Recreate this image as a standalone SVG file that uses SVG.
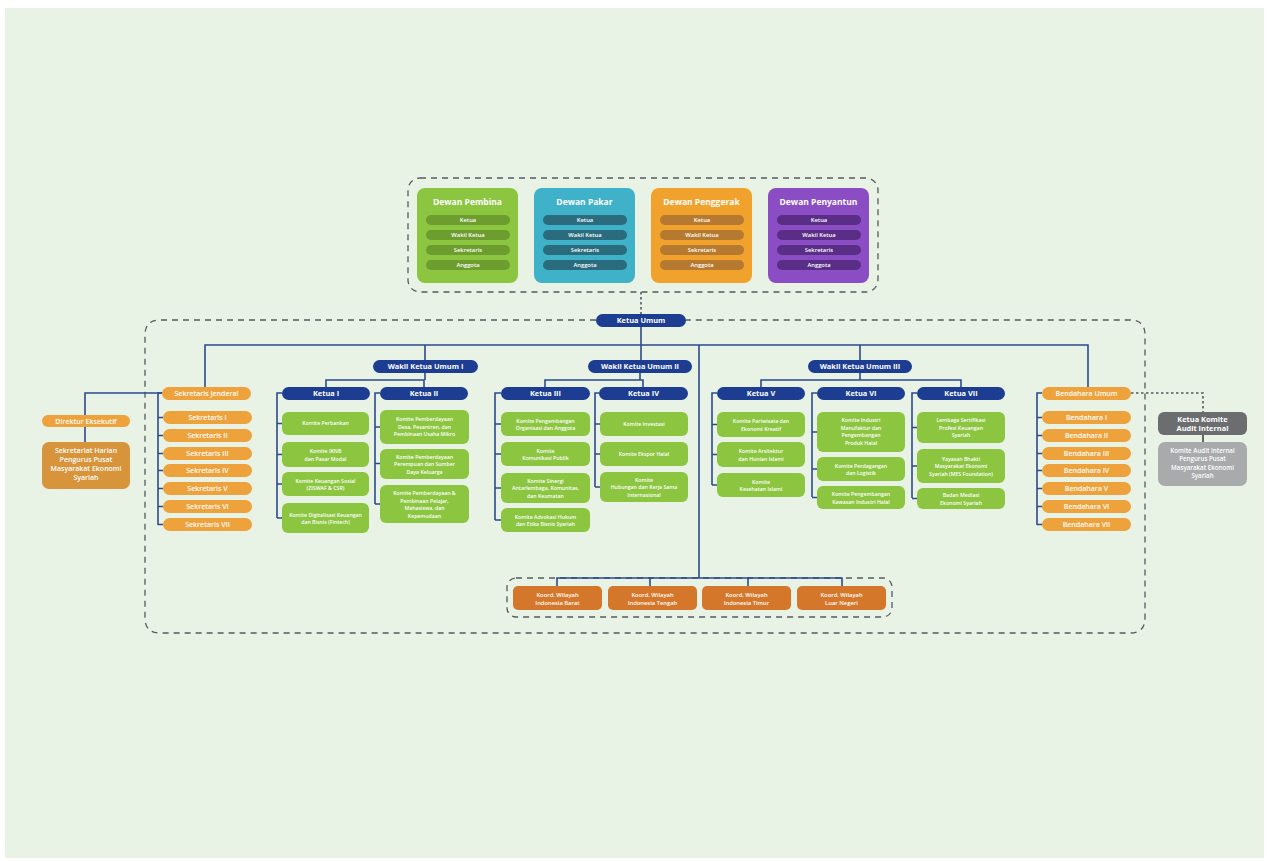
<svg xmlns="http://www.w3.org/2000/svg" width="1269" height="861" viewBox="0 0 1269 861">
<style>
text{font-family:"Open Sans","Liberation Sans",sans-serif;fill:#fff;text-anchor:middle;font-weight:700}
.t{font-size:8.5px}
.p{font-size:5.8px;font-weight:600}
.n{font-size:7.4px}
.o{font-size:7px;font-weight:600}
.c{font-size:5.2px;font-weight:600}
.navy{fill:#1c3d92}
.org{fill:#eea23c}
.grn{fill:#8cc540}
.krd{fill:#d5772b}
.ln{stroke:#2d4a8e;stroke-width:1.6;fill:none}
.dash{stroke:#555a5e;stroke-width:1.3;fill:none;stroke-dasharray:6 5}
.dot{stroke:#555a5e;stroke-width:1.6;fill:none;stroke-dasharray:2.5 2.5}
</style>
<rect width="1269" height="861" fill="#ffffff"/>
<rect x="5" y="8" width="1259" height="850" fill="#e8f3e5"/>

<g id="connectors">
<rect class="dash" x="408" y="178" width="470" height="114" rx="12"/>
<path class="dash" d="M596 320 H160 Q145 320 145 335 V618 Q145 633 160 633 H1130 Q1145 633 1145 618 V335 Q1145 320 1130 320 H686"/>
<rect class="dash" x="507" y="578" width="385" height="39" rx="9"/>
<path class="dot" d="M641 292 V314"/>
<path class="dot" d="M1131 393 H1203 V412"/>
<path class="ln" d="M641 327 V360 M205 387 V345 H1088 V387 M425 345 V360 M699 345 V578 M860 345 V360"/>
<path class="ln" d="M425 373 V380 M326 387 V380 H424 V387 M640 373 V380 M545 387 V380 H643 V387 M860 373 V380 M761 387 V380 H961 V387"/>
<path class="ln" d="M162 393 H85 V415 M85 427 V442"/>
<path class="ln" d="M163 393 H158 V525 M158 417.5 H163 M158 435.5 H163 M158 453.5 H163 M158 470.5 H163 M158 488.5 H163 M158 506.5 H163 M158 524.5 H163"/>
<path class="ln" d="M1042 393 H1037 V525 M1037 417.5 H1042 M1037 435.5 H1042 M1037 453.5 H1042 M1037 470.5 H1042 M1037 488.5 H1042 M1037 506.5 H1042 M1037 524.5 H1042"/>
<path class="ln" d="M282 393 H277 V518 M277 423.5 H282 M277 454.5 H282 M277 484 H282 M277 518 H282"/>
<path class="ln" d="M380 393 H375 V504 M375 427 H380 M375 463.5 H380 M375 504 H380"/>
<path class="ln" d="M501 393 H495 V520 M495 424 H501 M495 454 H501 M495 488 H501 M495 520 H501"/>
<path class="ln" d="M599 393 H595 V487 M595 424 H600 M595 454 H600 M595 487 H600"/>
<path class="ln" d="M717 393 H712 V485 M712 424.5 H717 M712 454.5 H717 M712 485 H717"/>
<path class="ln" d="M817 393 H812 V497 M812 432 H817 M812 469 H817 M812 497.5 H817"/>
<path class="ln" d="M917 393 H912 V498 M912 427.5 H917 M912 466 H917 M912 498.5 H917"/>
<path class="ln" d="M557 586 V578 H842 V586 M650 578 V586 M748 578 V586"/>
<path stroke="#444" stroke-width="1.6" d="M1203 435 V442"/>
</g>

<g id="dewan-pembina">
<rect x="417" y="188" width="101" height="95" rx="8" fill="#8cc540"/>
<text class="t" x="467.5" y="205">Dewan Pembina</text>
<g fill="#6e9d2f"><rect x="426" y="215" width="84" height="10" rx="5"/><rect x="426" y="230" width="84" height="10" rx="5"/><rect x="426" y="245" width="84" height="10" rx="5"/><rect x="426" y="260" width="84" height="10" rx="5"/></g>
<text class="p" x="468" y="222.2">Ketua</text><text class="p" x="468" y="237.2">Wakil Ketua</text><text class="p" x="468" y="252.2">Sekretaris</text><text class="p" x="468" y="267.2">Anggota</text>
</g>
<g id="dewan-pakar">
<rect x="534" y="188" width="101" height="95" rx="8" fill="#3fb1c9"/>
<text class="t" x="584.5" y="205">Dewan Pakar</text>
<g fill="#2a6b7e"><rect x="543" y="215" width="84" height="10" rx="5"/><rect x="543" y="230" width="84" height="10" rx="5"/><rect x="543" y="245" width="84" height="10" rx="5"/><rect x="543" y="260" width="84" height="10" rx="5"/></g>
<text class="p" x="585" y="222.2">Ketua</text><text class="p" x="585" y="237.2">Wakil Ketua</text><text class="p" x="585" y="252.2">Sekretaris</text><text class="p" x="585" y="267.2">Anggota</text>
</g>
<g id="dewan-penggerak">
<rect x="651" y="188" width="101" height="95" rx="8" fill="#f0a22d"/>
<text class="t" x="701.5" y="205">Dewan Penggerak</text>
<g fill="#b57a2f"><rect x="660" y="215" width="84" height="10" rx="5"/><rect x="660" y="230" width="84" height="10" rx="5"/><rect x="660" y="245" width="84" height="10" rx="5"/><rect x="660" y="260" width="84" height="10" rx="5"/></g>
<text class="p" x="702" y="222.2">Ketua</text><text class="p" x="702" y="237.2">Wakil Ketua</text><text class="p" x="702" y="252.2">Sekretaris</text><text class="p" x="702" y="267.2">Anggota</text>
</g>
<g id="dewan-penyantun">
<rect x="768" y="188" width="101" height="95" rx="8" fill="#8a4dc4"/>
<text class="t" x="818.5" y="205">Dewan Penyantun</text>
<g fill="#5a2d86"><rect x="777" y="215" width="84" height="10" rx="5"/><rect x="777" y="230" width="84" height="10" rx="5"/><rect x="777" y="245" width="84" height="10" rx="5"/><rect x="777" y="260" width="84" height="10" rx="5"/></g>
<text class="p" x="819" y="222.2">Ketua</text><text class="p" x="819" y="237.2">Wakil Ketua</text><text class="p" x="819" y="252.2">Sekretaris</text><text class="p" x="819" y="267.2">Anggota</text>
</g>

<g id="ketua-umum"><rect class="navy" x="596" y="314" width="90" height="13" rx="6.5"/><text class="n" x="641" y="323.2">Ketua Umum</text></g>
<g id="wku-1"><rect class="navy" x="373" y="360" width="105" height="13" rx="6.5"/><text class="n" x="425.5" y="369.2">Wakil Ketua Umum I</text></g>
<g id="wku-2"><rect class="navy" x="588" y="360" width="104" height="13" rx="6.5"/><text class="n" x="640" y="369.2">Wakil Ketua Umum II</text></g>
<g id="wku-3"><rect class="navy" x="808" y="360" width="104" height="13" rx="6.5"/><text class="n" x="860" y="369.2">Wakil Ketua Umum III</text></g>

<g id="ketua-1"><rect class="navy" x="282" y="387" width="88" height="13" rx="6.5"/><text class="n" x="326" y="396.2">Ketua I</text></g>
<g id="ketua-2"><rect class="navy" x="380" y="387" width="88" height="13" rx="6.5"/><text class="n" x="424" y="396.2">Ketua II</text></g>
<g id="ketua-3"><rect class="navy" x="501" y="387" width="89" height="13" rx="6.5"/><text class="n" x="545.5" y="396.2">Ketua III</text></g>
<g id="ketua-4"><rect class="navy" x="599" y="387" width="89" height="13" rx="6.5"/><text class="n" x="643.5" y="396.2">Ketua IV</text></g>
<g id="ketua-5"><rect class="navy" x="717" y="387" width="88" height="13" rx="6.5"/><text class="n" x="761" y="396.2">Ketua V</text></g>
<g id="ketua-6"><rect class="navy" x="817" y="387" width="88" height="13" rx="6.5"/><text class="n" x="861" y="396.2">Ketua VI</text></g>
<g id="ketua-7"><rect class="navy" x="917" y="387" width="88" height="13" rx="6.5"/><text class="n" x="961" y="396.2">Ketua VII</text></g>

<g id="sekjen"><rect class="org" x="162" y="387" width="89" height="13" rx="6.5"/><text class="o" x="206.5" y="396">Sekretaris Jenderal</text></g>
<g id="sekretaris">
<rect class="org" x="163" y="411" width="89" height="13" rx="6.5"/><text class="o" x="207.5" y="420">Sekretaris I</text>
<rect class="org" x="163" y="429" width="89" height="13" rx="6.5"/><text class="o" x="207.5" y="438">Sekretaris II</text>
<rect class="org" x="163" y="447" width="89" height="13" rx="6.5"/><text class="o" x="207.5" y="456">Sekretaris III</text>
<rect class="org" x="163" y="464" width="89" height="13" rx="6.5"/><text class="o" x="207.5" y="473">Sekretaris IV</text>
<rect class="org" x="163" y="482" width="89" height="13" rx="6.5"/><text class="o" x="207.5" y="491">Sekretaris V</text>
<rect class="org" x="163" y="500" width="89" height="13" rx="6.5"/><text class="o" x="207.5" y="509">Sekretaris VI</text>
<rect class="org" x="163" y="518" width="89" height="13" rx="6.5"/><text class="o" x="207.5" y="527">Sekretaris VII</text>
</g>
<g id="direktur"><rect class="org" x="42" y="415" width="88" height="12" rx="6"/><text class="o" x="86" y="423.6">Direktur Eksekutif</text></g>
<g id="sekretariat-harian"><rect x="42" y="442" width="88" height="47" rx="7" fill="#d7943a"/>
<text class="o" x="86" y="453">Sekretariat Harian</text><text class="o" x="86" y="462">Pengurus Pusat</text><text class="o" x="86" y="471">Masyarakat Ekonomi</text><text class="o" x="86" y="480">Syariah</text></g>

<g id="bendahara-umum"><rect class="org" x="1042" y="387" width="89" height="13" rx="6.5"/><text class="o" x="1086.5" y="396">Bendahara Umum</text></g>
<g id="bendahara">
<rect class="org" x="1042" y="411" width="89" height="13" rx="6.5"/><text class="o" x="1086.5" y="420">Bendahara I</text>
<rect class="org" x="1042" y="429" width="89" height="13" rx="6.5"/><text class="o" x="1086.5" y="438">Bendahara II</text>
<rect class="org" x="1042" y="447" width="89" height="13" rx="6.5"/><text class="o" x="1086.5" y="456">Bendahara III</text>
<rect class="org" x="1042" y="464" width="89" height="13" rx="6.5"/><text class="o" x="1086.5" y="473">Bendahara IV</text>
<rect class="org" x="1042" y="482" width="89" height="13" rx="6.5"/><text class="o" x="1086.5" y="491">Bendahara V</text>
<rect class="org" x="1042" y="500" width="89" height="13" rx="6.5"/><text class="o" x="1086.5" y="509">Bendahara VI</text>
<rect class="org" x="1042" y="518" width="89" height="13" rx="6.5"/><text class="o" x="1086.5" y="527">Bendahara VII</text>
</g>
<g id="ketua-komite-audit"><rect x="1158" y="412" width="89" height="23" rx="6" fill="#6b6d6f"/>
<text class="n" x="1202.5" y="421.5" font-weight="600">Ketua Komite</text><text class="n" x="1202.5" y="431" font-weight="600">Audit Internal</text></g>
<g id="komite-audit"><rect x="1158" y="442" width="89" height="44" rx="7" fill="#a8aaac"/>
<text class="c" x="1202.5" y="452.5" style="font-size:6.2px">Komite Audit Internal</text><text class="c" x="1202.5" y="461" style="font-size:6.2px">Pengurus Pusat</text><text class="c" x="1202.5" y="469.5" style="font-size:6.2px">Masyarakat Ekonomi</text><text class="c" x="1202.5" y="478" style="font-size:6.2px">Syariah</text></g>

<g id="komite-ketua-1">
<rect class="grn" x="282" y="412" width="87" height="23" rx="6"/><text class="c" x="325.5" y="425.3">Komite Perbankan</text>
<rect class="grn" x="282" y="442" width="87" height="25" rx="6"/><text class="c" x="325.5" y="453">Komite IKNB</text><text class="c" x="325.5" y="460.5">dan Pasar Modal</text>
<rect class="grn" x="282" y="472" width="87" height="24" rx="6"/><text class="c" x="325.5" y="482.5">Komite Keuangan Sosial</text><text class="c" x="325.5" y="490">(ZISWAF &amp; CSR)</text>
<rect class="grn" x="282" y="503" width="87" height="30" rx="6"/><text class="c" x="325.5" y="516.5">Komite Digitalisasi Keuangan</text><text class="c" x="325.5" y="524">dan Bisnis (Fintech)</text>
</g>
<g id="komite-ketua-2">
<rect class="grn" x="380" y="410" width="89" height="34" rx="6"/><text class="c" x="424.5" y="421">Komite Pemberdayaan</text><text class="c" x="424.5" y="428.5">Desa, Pesantren, dan</text><text class="c" x="424.5" y="436">Pembinaan Usaha Mikro</text>
<rect class="grn" x="380" y="449" width="89" height="30" rx="6"/><text class="c" x="424.5" y="458.5">Komite Pemberdayaan</text><text class="c" x="424.5" y="466">Perempuan dan Sumber</text><text class="c" x="424.5" y="473.5">Daya Keluarga</text>
<rect class="grn" x="380" y="485" width="89" height="38" rx="6"/><text class="c" x="424.5" y="495">Komite Pemberdayaan &amp;</text><text class="c" x="424.5" y="502.5">Pembinaan Pelajar,</text><text class="c" x="424.5" y="510">Mahasiswa, dan</text><text class="c" x="424.5" y="517.5">Kepemudaan</text>
</g>
<g id="komite-ketua-3">
<rect class="grn" x="501" y="412" width="89" height="24" rx="6"/><text class="c" x="545.5" y="422.5">Komite Pengembangan</text><text class="c" x="545.5" y="430">Organisasi dan Anggota</text>
<rect class="grn" x="501" y="442" width="89" height="24" rx="6"/><text class="c" x="545.5" y="452.5">Komite</text><text class="c" x="545.5" y="460">Komunikasi Publik</text>
<rect class="grn" x="501" y="473" width="89" height="30" rx="6"/><text class="c" x="545.5" y="482.5">Komite Sinergi</text><text class="c" x="545.5" y="490">Antarlembaga, Komunitas,</text><text class="c" x="545.5" y="497.5">dan Keumatan</text>
<rect class="grn" x="501" y="508" width="89" height="24" rx="6"/><text class="c" x="545.5" y="518.5">Komite Advokasi Hukum</text><text class="c" x="545.5" y="526">dan Etika Bisnis Syariah</text>
</g>
<g id="komite-ketua-4">
<rect class="grn" x="600" y="412" width="88" height="24" rx="6"/><text class="c" x="644" y="425.8">Komite Investasi</text>
<rect class="grn" x="600" y="442" width="88" height="24" rx="6"/><text class="c" x="644" y="455.8">Komite Ekspor Halal</text>
<rect class="grn" x="600" y="472" width="88" height="30" rx="6"/><text class="c" x="644" y="481.5">Komite</text><text class="c" x="644" y="489">Hubungan dan Kerja Sama</text><text class="c" x="644" y="496.5">Internasional</text>
</g>
<g id="komite-ketua-5">
<rect class="grn" x="717" y="412" width="88" height="25" rx="6"/><text class="c" x="761" y="423">Komite Pariwisata dan</text><text class="c" x="761" y="430.5">Ekonomi Kreatif</text>
<rect class="grn" x="717" y="442" width="88" height="25" rx="6"/><text class="c" x="761" y="453">Komite Arsitektur</text><text class="c" x="761" y="460.5">dan Hunian Islami</text>
<rect class="grn" x="717" y="473" width="88" height="24" rx="6"/><text class="c" x="761" y="483.5">Komite</text><text class="c" x="761" y="491">Kesehatan Islami</text>
</g>
<g id="komite-ketua-6">
<rect class="grn" x="817" y="412" width="88" height="40" rx="6"/><text class="c" x="861" y="422">Komite Industri</text><text class="c" x="861" y="429.5">Manufaktur dan</text><text class="c" x="861" y="437">Pengembangan</text><text class="c" x="861" y="444.5">Produk Halal</text>
<rect class="grn" x="817" y="457" width="88" height="24" rx="6"/><text class="c" x="861" y="467.5">Komite Perdagangan</text><text class="c" x="861" y="475">dan Logistik</text>
<rect class="grn" x="817" y="486" width="88" height="23" rx="6"/><text class="c" x="861" y="496">Komite Pengembangan</text><text class="c" x="861" y="503.5">Kawasan Industri Halal</text>
</g>
<g id="komite-ketua-7">
<rect class="grn" x="917" y="412" width="88" height="31" rx="6"/><text class="c" x="961" y="422">Lembaga Sertifikasi</text><text class="c" x="961" y="429.5">Profesi Keuangan</text><text class="c" x="961" y="437">Syariah</text>
<rect class="grn" x="917" y="449" width="88" height="34" rx="6"/><text class="c" x="961" y="460.5">Yayasan Bhakti</text><text class="c" x="961" y="468">Masyarakat Ekonomi</text><text class="c" x="961" y="475.5">Syariah (MES Foundation)</text>
<rect class="grn" x="917" y="488" width="88" height="21" rx="6"/><text class="c" x="961" y="497">Badan Mediasi</text><text class="c" x="961" y="504.5">Ekonomi Syariah</text>
</g>

<g id="koord-barat"><rect class="krd" x="513" y="586" width="89" height="24" rx="5"/><text class="c" x="557.5" y="596.5" style="font-size:5.8px">Koord. Wilayah</text><text class="c" x="557.5" y="604.5" style="font-size:5.8px">Indonesia Barat</text></g>
<g id="koord-tengah"><rect class="krd" x="608" y="586" width="89" height="24" rx="5"/><text class="c" x="652.5" y="596.5" style="font-size:5.8px">Koord. Wilayah</text><text class="c" x="652.5" y="604.5" style="font-size:5.8px">Indonesia Tengah</text></g>
<g id="koord-timur"><rect class="krd" x="702" y="586" width="89" height="24" rx="5"/><text class="c" x="746.5" y="596.5" style="font-size:5.8px">Koord. Wilayah</text><text class="c" x="746.5" y="604.5" style="font-size:5.8px">Indonesia Timur</text></g>
<g id="koord-luar"><rect class="krd" x="797" y="586" width="89" height="24" rx="5"/><text class="c" x="841.5" y="596.5" style="font-size:5.8px">Koord. Wilayah</text><text class="c" x="841.5" y="604.5" style="font-size:5.8px">Luar Negeri</text></g>
</svg>
